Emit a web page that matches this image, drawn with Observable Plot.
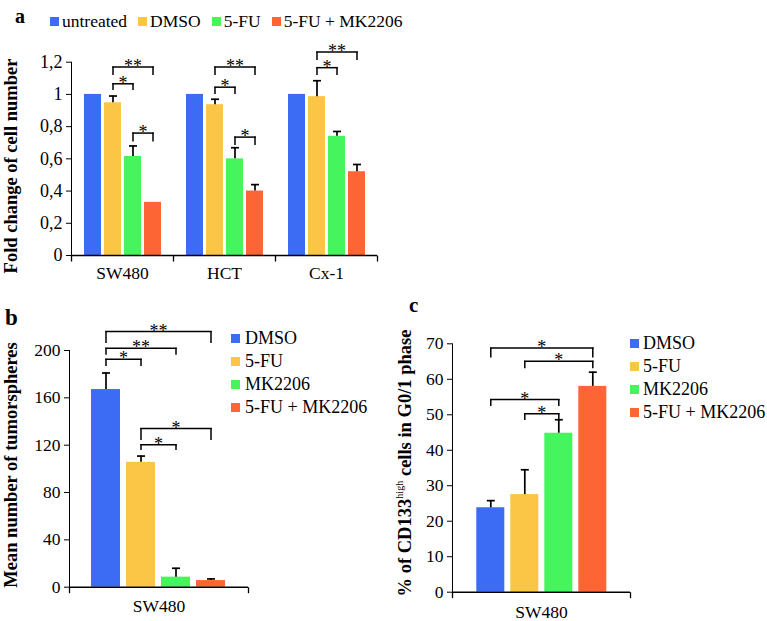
<!DOCTYPE html>
<html>
<head>
<meta charset="utf-8">
<script src="https://cdn.jsdelivr.net/npm/d3@7"></script>
<script src="https://cdn.jsdelivr.net/npm/@observablehq/plot@0.6"></script>
<style>
  html, body { margin: 0; padding: 0; background: #fff; }
  #root { position: relative; width: 767px; height: 621px; overflow: hidden; font-family: "Liberation Serif", "Times New Roman", serif; color: #000; }
  #root div, #root span { font-family: "Liberation Serif", "Times New Roman", serif; }
  .abs { position: absolute; }
  .plab { position: absolute; font-weight: bold; line-height: 1; }
  .ytitle { position: absolute; font-weight: bold; white-space: nowrap; line-height: 1; transform: translate(-50%, -50%) rotate(-90deg); }
  .ytitle sup { font-size: 0.55em; font-weight: normal; vertical-align: 0.75em; line-height: 0; }
  .legrow { position: absolute; display: flex; line-height: 1; }
  .legcol { position: absolute; display: flex; flex-direction: column; line-height: 1; }
  .item { display: flex; align-items: center; white-space: nowrap; }
  .sw { width: 9px; height: 9px; display: inline-block; flex: none; }
</style>
</head>
<body>
<div id="root">
  <div id="pa" class="abs" style="left:0;top:0"></div>
  <div id="pb" class="abs" style="left:0;top:300px"></div>
  <div id="pc" class="abs" style="left:380px;top:300px"></div>

  <div class="plab" style="left:15px;top:6px;font-size:20px">a</div>
  <div class="plab" style="left:5px;top:306px;font-size:23px">b</div>
  <div class="plab" style="left:409px;top:295px;font-size:21px">c</div>

  <div class="ytitle" style="left:11px;top:166px;font-size:18.5px">Fold change of cell number</div>
  <div class="ytitle" style="left:11px;top:465px;font-size:18.5px">Mean number of tumorspheres</div>
  <div class="ytitle" style="left:405px;top:463px;font-size:18.5px">% of CD133<sup>high</sup> cells in G0/1 phase</div>

  <div id="lega" class="legrow" style="left:50px;top:12.5px;font-size:17.5px;gap:11px"></div>
  <div id="legb" class="legcol" style="left:231px;top:329px;font-size:18px;gap:5px"></div>
  <div id="legc" class="legcol" style="left:630px;top:334px;font-size:18px;gap:5px"></div>
</div>
<script>
// ---------- colours ----------
const barColors = ["#3c6cf4", "#fbc545", "#46f55e", "#fd6535"];

// ---------- panel a ----------
const categoriesA = ["SW480", "HCT", "Cx-1"];
const seriesA = ["untreated", "DMSO", "5-FU", "5-FU + MK2206"];
const untreatedA = [1, 1, 1];
const dmsoA = [0.948, 0.936, 0.986];
const fuA = [0.615, 0.600, 0.740];
const fuMkA = [0.330, 0.400, 0.520];
const untreatedErrA = [0, 0, 0];
const dmsoErrA = [0.042, 0.034, 0.099];
const fuErrA = [0.065, 0.069, 0.030];
const fuMkErrA = [0, 0.040, 0.045];
const yTicksA = [0, 0.2, 0.4, 0.6, 0.8, 1, 1.2];
const bracketCatA = ["SW480", "SW480", "SW480", "HCT", "HCT", "HCT", "Cx-1", "Cx-1"];
const bracketFromA = ["DMSO", "DMSO", "5-FU", "DMSO", "DMSO", "5-FU", "DMSO", "DMSO"];
const bracketToA = ["5-FU + MK2206", "5-FU", "5-FU + MK2206", "5-FU + MK2206", "5-FU", "5-FU + MK2206", "5-FU + MK2206", "5-FU"];
const bracketYA = [1.17, 1.066, 0.76, 1.17, 1.045, 0.735, 1.263, 1.166];
const bracketLowA = [1.118, 1.025, 0.704, 1.118, 1.0, 0.683, 1.211, 1.118];
const bracketLabelA = ["**", "*", "*", "**", "*", "*", "**", "*"];

// ---------- panel b ----------
const categoriesB = ["SW480"];
const seriesB = ["DMSO", "5-FU", "MK2206", "5-FU + MK2206"];
const meanB = [167, 105.5, 8.5, 5.6];
const errB = [14, 5.3, 7.5, 1.4];
const yTicksB = [0, 40, 80, 120, 160, 200];
const bracketFromB = ["DMSO", "DMSO", "DMSO", "5-FU", "5-FU"];
const bracketToB = ["5-FU + MK2206", "MK2206", "5-FU", "5-FU + MK2206", "MK2206"];
const bracketYB = [216, 202, 192.7, 134, 120.4];
const bracketLowB = [206, 196, 186.5, 124, 115.5];
const bracketLabelB = ["**", "**", "*", "*", "*"];

// ---------- panel c ----------
const categoriesC = ["SW480"];
const seriesC = ["DMSO", "5-FU", "MK2206", "5-FU + MK2206"];
const meanC = [23.8, 27.5, 44.8, 58];
const errC = [2, 7, 3.8, 4];
const yTicksC = [0, 10, 20, 30, 40, 50, 60, 70];
const bracketFromC = ["DMSO", "5-FU", "DMSO", "5-FU"];
const bracketToC = ["5-FU + MK2206", "5-FU + MK2206", "MK2206", "MK2206"];
const bracketYC = [68.8, 65.1, 54.3, 50.3];
const bracketLowC = [66, 63, 52.3, 48.4];
const bracketLabelC = ["*", "*", "*", "*"];

// ---------- helpers ----------
const FONT = "'Liberation Serif', 'Times New Roman', serif";
const capSym = {draw(ctx) { ctx.moveTo(-4, 0); ctx.lineTo(4, 0); }};
const downTick = {draw(ctx) { ctx.moveTo(0, 0); ctx.lineTo(0, 6); }};

function makeRows(cats, series, values, errs) {
  return cats.flatMap((c, i) => series.map((s, j) => ({cat: c, series: s, value: values[j][i], err: errs[j][i]})));
}
function makeBrackets(cats, from, to, y, low, label) {
  return from.map((f, i) => ({cat: cats[i], from: f, to: to[i], y: y[i], low: low[i], label: label[i]}));
}

function panel(o) {
  const rows = o.rows, br = o.brackets, withErr = rows.filter(d => d.err > 0);
  const midRender = (index, scales, values, dimensions, context, next) => {
    const X = Float64Array.from(values.x, (v, i) => (v + scales.x(br[i].to)) / 2);
    return next(index, scales, {...values, x: X}, dimensions, context);
  };
  const lastCat = o.cats[o.cats.length - 1];
  return Plot.plot({
    width: o.width, height: o.height,
    marginLeft: o.mL, marginRight: o.mR, marginTop: o.mT, marginBottom: o.mB,
    style: {fontFamily: FONT, fontSize: o.tickFont + "px", color: "black", background: "transparent", overflow: "visible"},
    fx: {domain: o.cats, padding: 0, axis: null},
    x: {domain: o.series, paddingInner: o.pI, paddingOuter: o.pO, axis: null},
    y: {domain: o.yDomain, ticks: o.yTicks, tickFormat: o.yFormat, tickSize: 5, tickPadding: 4, line: true, label: null},
    color: {domain: o.series, range: barColors},
    marks: [
      Plot.barY(rows, {fx: "cat", x: "series", y: "value", fill: "series"}),
      Plot.ruleX(withErr, {fx: "cat", x: "series", y1: "value", y2: d => d.value + d.err, stroke: "black", strokeWidth: 1.7}),
      Plot.dot(withErr, {fx: "cat", x: "series", y: d => d.value + d.err, symbol: capSym, fill: "none", stroke: "black", strokeWidth: 1.7}),
      Plot.ruleY([0], {stroke: "black", strokeWidth: 1.4}),
      Plot.dot(o.cats, {fx: d => d, x: null, y: null, frameAnchor: "bottom-left", symbol: downTick, fill: "none", stroke: "black", strokeWidth: 1.3}),
      Plot.dot([lastCat], {fx: d => d, x: null, y: null, frameAnchor: "bottom-right", symbol: downTick, fill: "none", stroke: "black", strokeWidth: 1.3}),
      Plot.axisFx({anchor: "bottom", label: null, tickSize: 0, tickPadding: o.fxPad, fontSize: 17.5}),
      Plot.link(br, {fx: "cat", x1: "from", x2: "to", y1: "y", y2: "y", stroke: "black", strokeWidth: 1.5, strokeLinecap: "square"}),
      Plot.ruleX(br, {fx: "cat", x: "from", y1: "low", y2: "y", stroke: "black", strokeWidth: 1.5}),
      Plot.ruleX(br, {fx: "cat", x: "to", y1: "low", y2: "y", stroke: "black", strokeWidth: 1.5}),
      Plot.text(br, {fx: "cat", x: "from", y: "y", text: "label", lineAnchor: "bottom", dy: 5, fontSize: 18, fill: "black", render: midRender})
    ]
  });
}

const commaFmt = d => String(d).replace(".", ",");

document.getElementById("pa").append(panel({
  cats: categoriesA, series: seriesA,
  rows: makeRows(categoriesA, seriesA, [untreatedA, dmsoA, fuA, fuMkA], [untreatedErrA, dmsoErrA, fuErrA, fuMkErrA]),
  brackets: makeBrackets(bracketCatA, bracketFromA, bracketToA, bracketYA, bracketLowA, bracketLabelA),
  width: 400, height: 290, mL: 70, mR: 23, mT: 61.7, mB: 35,
  pI: 0.15, pO: 0.625, fxPad: 11.4, tickFont: 18,
  yDomain: [0, 1.2], yTicks: yTicksA, yFormat: commaFmt
}));

document.getElementById("pb").append(panel({
  cats: categoriesB, series: seriesB,
  rows: makeRows(categoriesB, seriesB, meanB.map(v => [v]), errB.map(v => [v])),
  brackets: makeBrackets(bracketFromB.map(() => categoriesB[0]), bracketFromB, bracketToB, bracketYB, bracketLowB, bracketLabelB),
  width: 250, height: 321, mL: 69, mR: 2, mT: 50, mB: 34.3,
  pI: 0.167, pO: 0.57, fxPad: 12.7, tickFont: 17.5,
  yDomain: [0, 200], yTicks: yTicksB, yFormat: d => String(d)
}));

document.getElementById("pc").append(panel({
  cats: categoriesC, series: seriesC,
  rows: makeRows(categoriesC, seriesC, meanC.map(v => [v]), errC.map(v => [v])),
  brackets: makeBrackets(bracketFromC.map(() => categoriesC[0]), bracketFromC, bracketToC, bracketYC, bracketLowC, bracketLabelC),
  width: 252, height: 321, mL: 71.7, mR: 2, mT: 43.3, mB: 29.3,
  pI: 0.165, pO: 0.667, fxPad: 13.6, tickFont: 17.5,
  yDomain: [0, 70], yTicks: yTicksC, yFormat: d => String(d)
}));

// ---------- legends ----------
function legend(id, series, gap) {
  const el = document.getElementById(id);
  series.forEach((s, i) => {
    const item = document.createElement("div");
    item.className = "item";
    item.style.gap = gap + "px";
    const sw = document.createElement("span");
    sw.className = "sw";
    sw.style.background = barColors[i];
    const t = document.createElement("span");
    t.textContent = s;
    item.append(sw, t);
    el.append(item);
  });
}
legend("lega", seriesA, 3);
legend("legb", seriesB, 5);
legend("legc", seriesC, 4);
</script>
</body>
</html>
